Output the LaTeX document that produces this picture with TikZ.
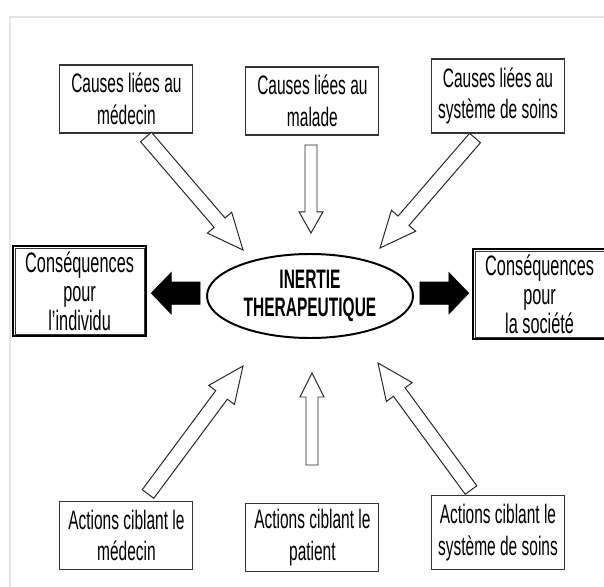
\documentclass[tikz,border=0pt]{standalone}
\usepackage{fontspec}
\setmainfont[FakeStretch=0.58]{Liberation Sans}
\usetikzlibrary{calc,shapes.geometric}

% block arrow: style, from, to, shaft half width, head half width, head length
\newcommand{\fatarrow}[6]{%
  \coordinate (hb) at ($(#3)!#6!(#2)$);
  \draw[#1] ($(#2)!#4!90:(#3)$) -- ($(hb)!#4!90:(#3)$) -- ($(hb)!#5!90:(#3)$)
    -- (#3) -- ($(hb)!#5!-90:(#3)$) -- ($(hb)!#4!-90:(#3)$) -- ($(#2)!#4!-90:(#3)$) -- cycle;
}

\tikzset{
  cause/.style={draw=black!80, line width=0.8pt, fill=white, minimum width=3.325cm,
    minimum height=1.7cm, align=center, inner sep=0pt, font=\fontsize{19}{22.5}\selectfont},
  csq/.style={draw=black, line width=1.6pt, fill=white, minimum width=3.325cm,
    minimum height=2.25cm, align=center, inner sep=0pt, font=\fontsize{20}{20.5}\selectfont},
  hollow/.style={draw=black!85, line width=0.7pt, fill=white, line join=miter},
  filledarrow/.style={draw=black, fill=black, line join=miter}
}

\begin{document}
\begin{tikzpicture}
    \useasboundingbox (0,0) rectangle (15.1,14.65);
    \draw[gray!20, line width=1.5pt] (0.25,-0.1) -- (0.25,14.225) -- (15.3,14.225);

    \node[draw, ellipse, line width=1.4pt, minimum width=5.15cm, minimum height=2.1cm,
      inner sep=0pt, align=center, font=\fontsize{19}{19.5}\selectfont\bfseries]
      (inertie) at (7.75,7.25) {INERTIE\\THERAPEUTIQUE};

    \node[cause] (cm_med) at (3.16,12.175) {Causes liées au\\médecin};
    \node[cause] (cm_mal) at (7.81,12.125) {Causes liées au\\malade};
    \node[cause, minimum height=1.85cm] (cm_sys) at (12.45,12.25) {Causes liées au\\système de soins};
    \node[cause] (ac_med) at (3.16,1.26) {Actions ciblant le\\médecin};
    \node[cause] (ac_pat) at (7.81,1.21) {Actions ciblant le\\patient};
    \node[cause, minimum height=1.85cm] (ac_sys) at (12.45,1.34) {Actions ciblant le\\système de soins};

    \node[csq] (csq_ind) at (1.99,7.375) {Conséquences\\pour\\l’individu};
    \node[csq] (csq_soc) at (13.49,7.3) {Conséquences\\pour\\la société};
    \draw[black!80, line width=0.5pt] ($(csq_ind.south west)+(0.08,0.08)$) rectangle ($(csq_ind.north east)+(-0.08,-0.08)$);
    \draw[black!80, line width=0.5pt] ($(csq_soc.south west)+(0.08,0.08)$) rectangle ($(csq_soc.north east)+(-0.08,-0.08)$);

    % causes
    \coordinate (tl1) at (3.65,11.225);  \coordinate (tl2) at (6.075,8.4);
    \coordinate (tm1) at (7.775,11.025); \coordinate (tm2) at (7.775,8.825);
    \coordinate (tr1) at (11.875,11.2);  \coordinate (tr2) at (9.5,8.45);
    \fatarrow{hollow}{tl1}{tl2}{0.18cm}{0.4cm}{0.9cm}
    \fatarrow{hollow}{tm1}{tm2}{0.15cm}{0.3cm}{0.53cm}
    \fatarrow{hollow}{tr1}{tr2}{0.18cm}{0.4cm}{0.9cm}

    % actions
    \coordinate (bl1) at (3.7,2.3);      \coordinate (bl2) at (6.075,5.5);
    \coordinate (bm1) at (7.8,3.025);    \coordinate (bm2) at (7.8,5.325);
    \coordinate (br1) at (11.775,2.4);   \coordinate (br2) at (9.45,5.575);
    \fatarrow{hollow}{bl1}{bl2}{0.18cm}{0.4cm}{0.9cm}
    \fatarrow{hollow}{bm1}{bm2}{0.15cm}{0.3cm}{0.6cm}
    \fatarrow{hollow}{br1}{br2}{0.18cm}{0.4cm}{0.9cm}

    % consequences
    \coordinate (la1) at ($(inertie.west)+(-0.15,0.07)$);
    \coordinate (la2) at ($(la1 -| csq_ind.east)+(0.1,0)$);
    \coordinate (ra1) at ($(inertie.east)+(0.15,0.07)$);
    \coordinate (ra2) at ($(ra1 -| csq_soc.west)+(-0.08,0)$);
    \fatarrow{filledarrow}{la1}{la2}{0.28cm}{0.52cm}{0.5cm}
    \fatarrow{filledarrow}{ra1}{ra2}{0.28cm}{0.52cm}{0.5cm}
\end{tikzpicture}
\end{document}
